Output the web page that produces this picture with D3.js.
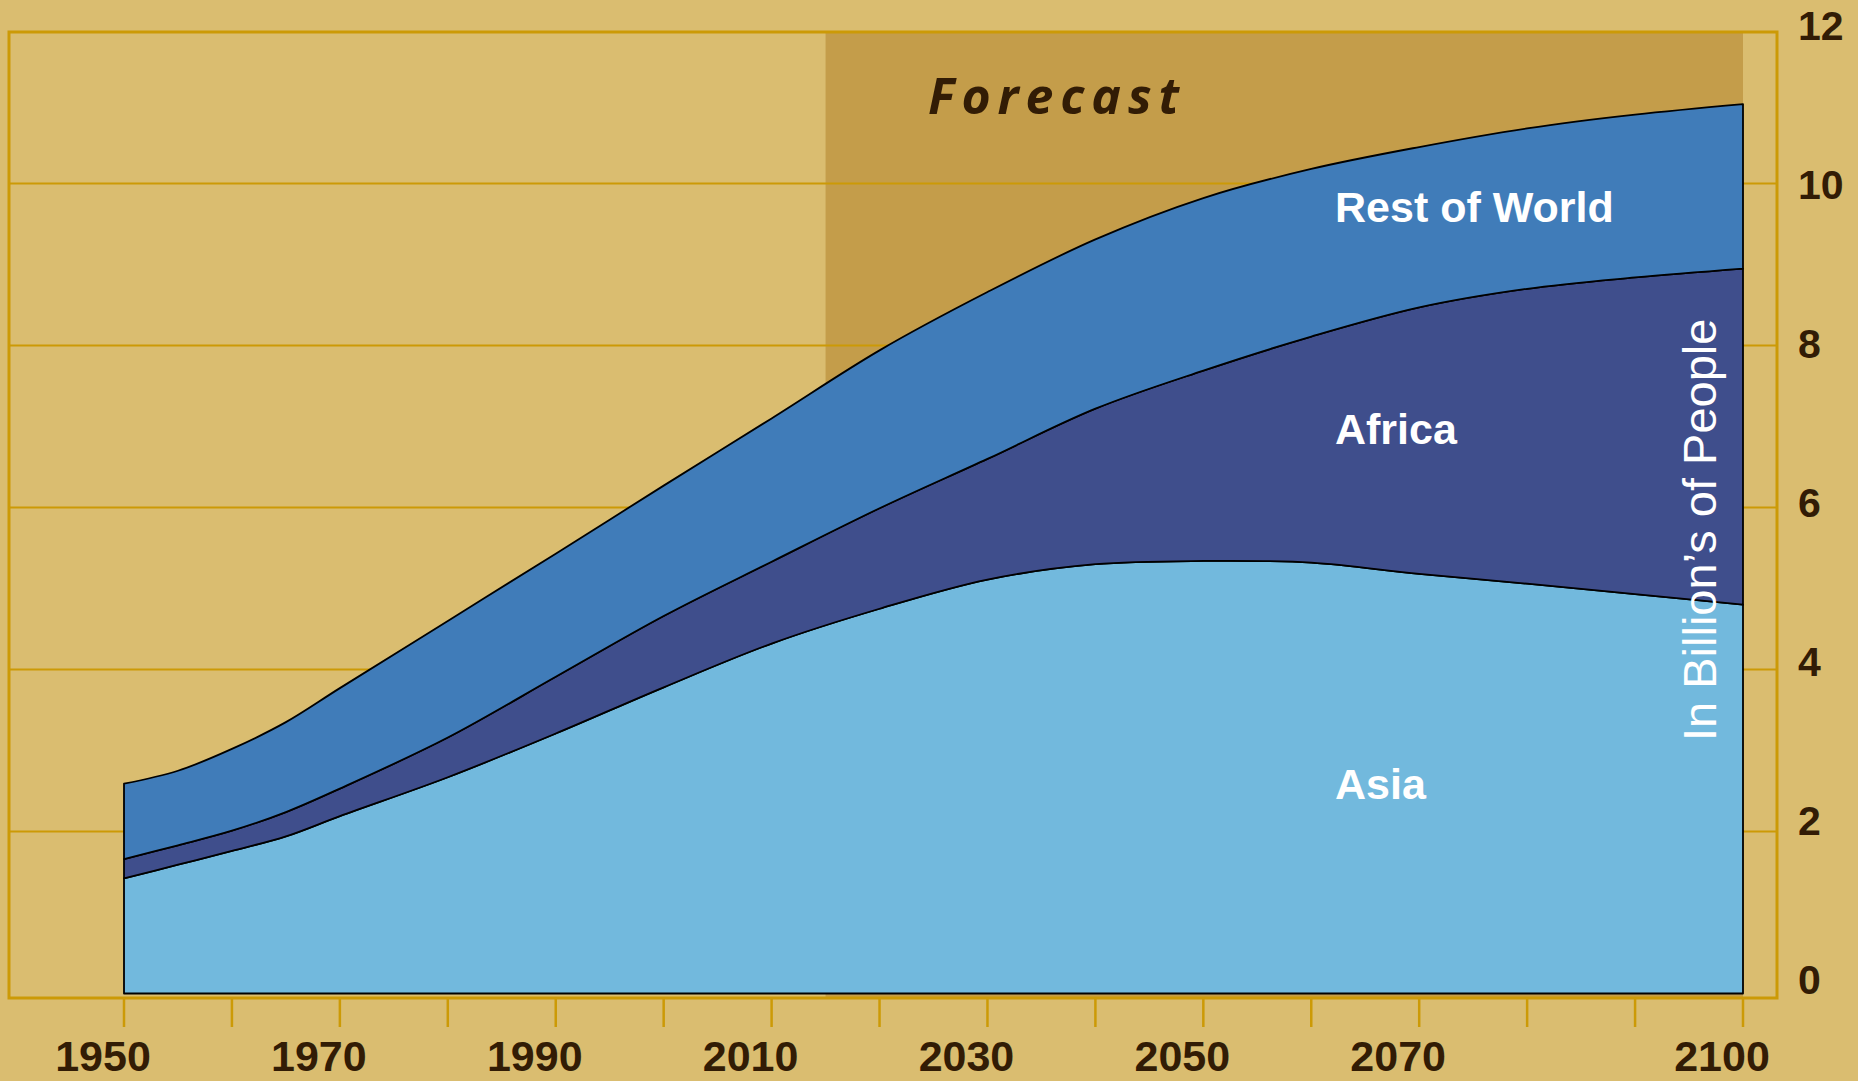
<!DOCTYPE html>
<html>
<head>
<meta charset="utf-8">
<script src="https://cdn.jsdelivr.net/npm/d3@7"></script>
<style>
  html, body { margin: 0; padding: 0; background: #dabd70; }
  svg { display: block; }
</style>
</head>
<body>
<script>
// ---- Data (billions of people) ----
const years = [1950,1955,1960,1965,1970,1980,1990,2000,2010,2020,2030,2040,2050,2060,2070,2080,2090,2100];
const asia        = [1.42,1.59,1.76,1.94,2.19,2.67,3.21,3.78,4.32,4.75,5.11,5.30,5.34,5.32,5.18,5.06,4.93,4.80];
const africa      = [0.24,0.24,0.25,0.30,0.34,0.49,0.70,0.88,1.01,1.24,1.49,1.92,2.35,2.79,3.29,3.64,3.91,4.15];
const restOfWorld = [0.93,0.92,1.01,1.11,1.24,1.44,1.52,1.61,1.77,1.95,2.06,2.09,2.13,2.07,1.98,1.98,2.01,2.03];
const seriesNames = ["Asia", "Africa", "Rest of World"];
const seriesColors = ["#72b9dd", "#3f4e8c", "#407cb9"];
const xTickYears = [1950,1960,1970,1980,1990,2000,2010,2020,2030,2040,2050,2060,2070,2080,2090,2100];
const xLabelYears = [1950,1970,1990,2010,2030,2050,2070,2100];
const yTickValues = [0,2,4,6,8,10,12];
const yGridValues = [2,4,6,8,10];
const forecastRange = [2015, 2100];
const forecastLabel = "Forecast";
const axisTitle = "In Billion\u2019s of People";
const seriesLabels = [
  {name: "Rest of World", year: 2062.2, value: 9.52},
  {name: "Africa", year: 2062.2, value: 6.78},
  {name: "Asia", year: 2062.2, value: 2.40}
];

// ---- Layout ----
const W = 1858, H = 1081;
const gold = "#cc9a06";
const brown = "#321c05";
const frame = {x0: 9, y0: 32, x1: 1777, y1: 998};

const x = d3.scaleLinear().domain([1950, 2100]).range([124, 1743]);
const y = d3.scaleLinear().domain([0, 10]).range([993.5, 183.5]);
// baseline positions of the right-hand tick labels
const yLabel = d3.scaleLinear().domain([0, 12]).range([994, 40]);

const svg = d3.select("body").append("svg")
  .attr("width", W).attr("height", H);

svg.append("rect").attr("width", W).attr("height", H).attr("fill", "#dabd70");

// forecast box
svg.append("rect")
  .attr("x", x(forecastRange[0])).attr("y", frame.y0)
  .attr("width", x(forecastRange[1]) - x(forecastRange[0]))
  .attr("height", frame.y1 - frame.y0)
  .attr("fill", "#c49d4a");

// gridlines
svg.append("g").selectAll("line").data(yGridValues).join("line")
  .attr("x1", frame.x0).attr("x2", frame.x1)
  .attr("y1", d => y(d)).attr("y2", d => y(d))
  .attr("stroke", gold).attr("stroke-width", 2);

// frame
svg.append("rect")
  .attr("x", frame.x0).attr("y", frame.y0)
  .attr("width", frame.x1 - frame.x0).attr("height", frame.y1 - frame.y0)
  .attr("fill", "none").attr("stroke", gold).attr("stroke-width", 3);

// x ticks
svg.append("g").selectAll("line").data(xTickYears).join("line")
  .attr("x1", d => x(d)).attr("x2", d => x(d))
  .attr("y1", frame.y1).attr("y2", frame.y1 + 29)
  .attr("stroke", gold).attr("stroke-width", 2.5);

// stacked areas
const table = years.map((yr, i) => ({year: yr, "Asia": asia[i], "Africa": africa[i], "Rest of World": restOfWorld[i]}));
const stacked = d3.stack().keys(seriesNames)(table);
const area = d3.area()
  .x(d => x(d.data.year))
  .y0(d => y(d[0]))
  .y1(d => y(d[1]))
  .curve(d3.curveCatmullRom.alpha(0.5));

svg.append("g").selectAll("path").data(stacked).join("path")
  .attr("d", area)
  .attr("fill", (d, i) => seriesColors[i])
  .attr("stroke", "#000")
  .attr("stroke-width", 1.8)
  .attr("stroke-linejoin", "round");

// forecast label
svg.append("text")
  .attr("x", 928).attr("y", 114)
  .attr("textLength", 251).attr("lengthAdjust", "spacing")
  .attr("font-family", "'Open Sans', 'DejaVu Sans', sans-serif")
  .attr("font-weight", 700).attr("font-style", "italic")
  .attr("font-size", 50)
  .attr("fill", brown)
  .text(forecastLabel);

// series labels
svg.append("g").selectAll("text").data(seriesLabels).join("text")
  .attr("x", d => x(d.year)).attr("y", d => y(d.value))
  .attr("font-family", "'Liberation Sans', Arial, sans-serif")
  .attr("font-weight", 700).attr("font-size", 43)
  .attr("fill", "#fff")
  .text(d => d.name);

// rotated axis title
svg.append("text")
  .attr("transform", "translate(1715.5,741) rotate(-90)")
  .attr("font-family", "'Liberation Sans', Arial, sans-serif")
  .attr("font-size", 47)
  .attr("fill", "#fff")
  .text(axisTitle);

// right axis labels
svg.append("g").selectAll("text").data(yTickValues).join("text")
  .attr("x", 1798).attr("y", d => yLabel(d))
  .attr("font-family", "'Liberation Sans', Arial, sans-serif")
  .attr("font-weight", 700).attr("font-size", 41)
  .attr("fill", brown)
  .text(d => d);

// x labels
svg.append("g").selectAll("text").data(xLabelYears).join("text")
  .attr("x", d => x(d) - 21).attr("y", 1071)
  .attr("text-anchor", "middle")
  .attr("font-family", "'Liberation Sans', Arial, sans-serif")
  .attr("font-weight", 700).attr("font-size", 43)
  .attr("fill", brown)
  .text(d => d);
</script>
</body>
</html>
